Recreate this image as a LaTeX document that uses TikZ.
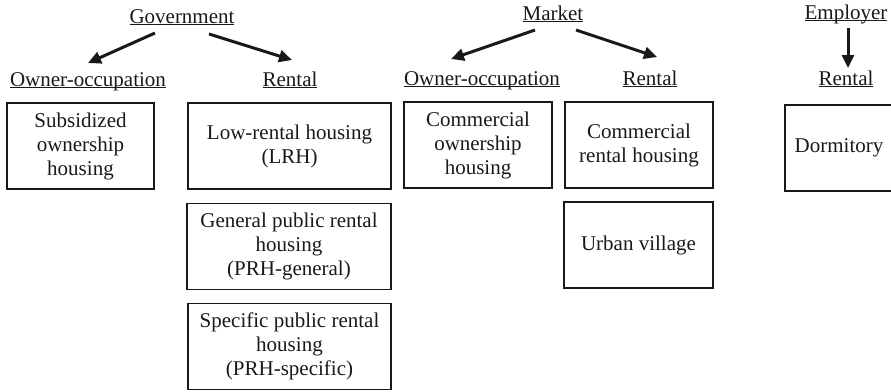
\documentclass[tikz,border=0pt]{standalone}
\usepackage{fontspec}
\setmainfont{Liberation Serif}
\usepackage{tikz}
\usepackage{tkz-euclide}
\usetikzlibrary{arrows.meta}
\definecolor{ink}{gray}{0.1}
\newcommand{\uhead}[1]{\underline{\smash{#1}}}
\tikzset{
  housebox/.style={draw=ink, line width=1.9pt, minimum width=#1, minimum height=86pt,
    align=center, inner sep=0pt},
  housebox/.default=148pt,
  heading/.style={anchor=base, inner sep=0pt},
  tenure/.style={-{Triangle[length=13pt,width=12pt]}, line width=3pt, draw=ink}
}

\begin{document}
\begin{tikzpicture}[x=1pt,y=1pt,font=\fontsize{21}{24}\selectfont,text=ink]
    \useasboundingbox (0,0) rectangle (891,-391);
    \tkzDefPoints{182/-23/G,553/-20/M,846/-19/E}
    \tkzDefPoints{88/-86/GO,290/-86/GR,482/-85/MO,650/-85/MR,846/-85/ER}
    \tkzDefPoints{80.5/-146/S,289.5/-146/L,289/-246.5/P,289.5/-346.5/Q}
    \tkzDefPoints{478/-145/C,639/-145/K,638.5/-245/U,839/-148/D}
    % providers and tenures
    \node[heading] (gov) at (G) {\uhead{Government}};
    \node[heading] (mkt) at (M) {\uhead{Market}};
    \node[heading] (emp) at (E) {\uhead{Employer}};
    \node[heading] (govown) at (GO) {\uhead{Owner-occupation}};
    \node[heading] (govrent) at (GR) {\uhead{Rental}};
    \node[heading] (mktown) at (MO) {\uhead{Owner-occupation}};
    \node[heading] (mktrent) at (MR) {\uhead{Rental}};
    \node[heading] (emprent) at (ER) {\uhead{Rental}};
    \draw[tenure] ([shift={(-27pt,-10pt)}]gov.base) -- ([yshift=23pt]govown.base);
    \draw[tenure] ([shift={(27pt,-11pt)}]gov.base) -- ([shift={(2pt,26pt)}]govrent.base);
    \draw[tenure] ([shift={(-18pt,-10pt)}]mkt.base) -- ([shift={(-31pt,26pt)}]mktown.base);
    \draw[tenure] ([shift={(23pt,-10pt)}]mkt.base) -- ([shift={(7pt,28pt)}]mktrent.base);
    \draw[tenure] ([shift={(2pt,-9pt)}]emp.base) -- ([shift={(2pt,17pt)}]emprent.base);
    % housing types
    \node[housebox=147pt] (sub) at (S) {Subsidized\\ownership\\housing};
    \node[housebox=203pt] (lrh) at (L) {Low-rental housing\\(LRH)};
    \node[housebox=204pt] (prhg) at (P) {General public rental\\housing\\(PRH-general)};
    \node[housebox=203pt] (prhs) at (Q) {Specific public rental\\housing\\(PRH-specific)};
    \node[housebox] (cown) at (C) {Commercial\\ownership\\housing};
    \node[housebox] (crent) at (K) {Commercial\\rental housing};
    \node[housebox=149pt] (urban) at (U) {Urban village};
    \node[housebox=108pt] (dorm) at (D) {Dormitory};
  \end{tikzpicture}
\end{document}
